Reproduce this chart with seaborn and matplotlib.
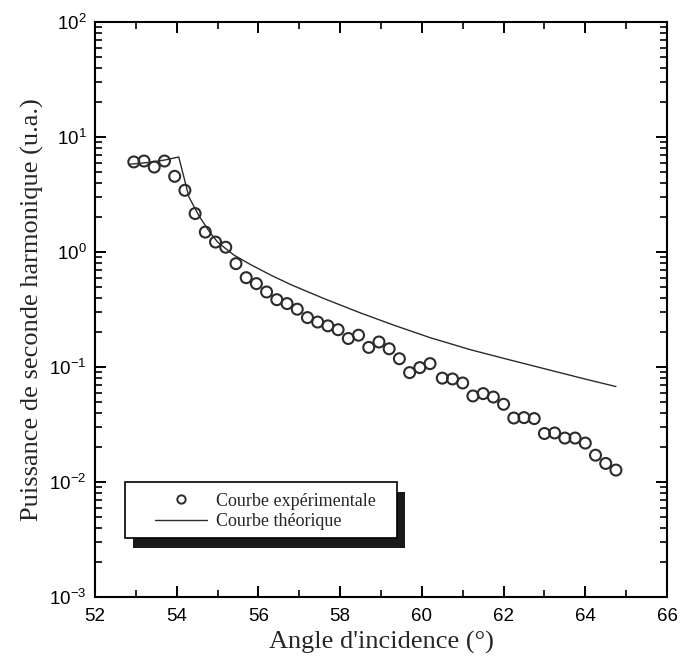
import numpy as np
import pandas as pd
import matplotlib
matplotlib.use("Agg")
import matplotlib.pyplot as plt
import seaborn as sns
from matplotlib.patches import Rectangle
from matplotlib.lines import Line2D
from matplotlib.ticker import LogLocator, MultipleLocator, NullFormatter

# ==============================
# DATA
# ==============================

angle_exp = [52.95, 53.20, 53.45, 53.70, 53.95, 54.20, 54.45, 54.70, 54.95, 55.20,
             55.45, 55.70, 55.95, 56.20, 56.45, 56.70, 56.95, 57.20, 57.45, 57.70,
             57.95, 58.20, 58.45, 58.70, 58.95, 59.20, 59.45, 59.70, 59.95, 60.20,
             60.50, 60.75, 61.00, 61.25, 61.50, 61.75, 62.00, 62.25, 62.50, 62.75,
             63.00, 63.25, 63.50, 63.75, 64.00, 64.25, 64.50, 64.75]
power_exp = [6.07, 6.18, 5.48, 6.18, 4.55, 3.44, 2.16, 1.49, 1.22, 1.10,
             0.792, 0.598, 0.531, 0.449, 0.385, 0.356, 0.318, 0.269, 0.246, 0.228,
             0.211, 0.177, 0.189, 0.148, 0.165, 0.144, 0.118, 0.0894, 0.0988, 0.107,
             0.080, 0.0787, 0.0726, 0.056, 0.0587, 0.0548, 0.0474, 0.0360, 0.0363, 0.0356,
             0.0264, 0.0267, 0.0241, 0.0241, 0.0218, 0.0171, 0.0145, 0.0127]

angle_th = [52.85, 53.30, 53.70, 54.05, 54.30, 54.55, 54.80, 55.00, 55.20, 55.40,
            55.80, 56.30, 56.80, 57.60, 58.50, 59.30, 60.20, 61.20, 62.00, 63.00,
            64.00, 64.75]
power_th = [5.8, 6.0, 6.3, 6.7, 3.0, 2.05, 1.5, 1.22, 1.07, 0.94,
            0.78, 0.63, 0.519, 0.394, 0.295, 0.232, 0.18, 0.141, 0.119, 0.0966,
            0.0785, 0.0676]

label_exp = "Courbe expérimentale"
label_th = "Courbe théorique"

df_exp = pd.DataFrame({"angle": angle_exp, "power": power_exp})
df_th = pd.DataFrame({"angle": angle_th, "power": power_th})

# ==============================
# STYLE
# ==============================

sns.set_theme(style="ticks")
plt.rcParams["font.family"] = ["Liberation Sans", "DejaVu Sans"]
plt.rcParams["axes.linewidth"] = 1.5

serif = ["Liberation Serif", "DejaVu Serif"]
ink = "#2b2b2b"

fig = plt.figure(figsize=(6.86, 6.66), dpi=100)
ax = fig.add_axes([95 / 686, 1 - 597 / 666, 572 / 686, 575 / 666])

# ==============================
# PLOT
# ==============================

sns.lineplot(data=df_th, x="angle", y="power", ax=ax, color=ink, lw=1.0,
             estimator=None, sort=False, zorder=2)
sns.scatterplot(data=df_exp, x="angle", y="power", ax=ax, marker="o", s=62,
                facecolor="none", edgecolor=ink, linewidth=1.5, zorder=3)

ax.set_yscale("log")
ax.set_xlim(52, 66)
ax.set_ylim(1e-3, 1e2)

ax.xaxis.set_major_locator(MultipleLocator(2))
ax.xaxis.set_minor_locator(MultipleLocator(1))
ax.yaxis.set_major_locator(LogLocator(base=10, numticks=10))
ax.yaxis.set_minor_locator(LogLocator(base=10, subs=np.arange(2, 10), numticks=10))
ax.yaxis.set_minor_formatter(NullFormatter())

ax.tick_params(which="both", direction="in", top=True, right=True, colors="black",
               labelsize=13.5)
ax.tick_params(axis="x", pad=8)
ax.tick_params(axis="y", pad=6)
ax.tick_params(which="major", length=8, width=1.4)
ax.tick_params(which="minor", length=5, width=1.2)
for sp in ax.spines.values():
    sp.set_color("black")

ax.set_xlabel("Angle d'incidence (°)", fontsize=19, family=serif, labelpad=4)
ax.set_ylabel("Puissance de seconde harmonique (u.a.)", fontsize=19, family=serif,
              labelpad=4)

# ==============================
# LEGEND (box with dark shadow)
# ==============================

ax.add_patch(Rectangle((0.0664, 0.085), 0.476, 0.0974, transform=ax.transAxes,
                       facecolor="#1a1a1a", edgecolor="none", zorder=4))
ax.add_patch(Rectangle((0.0524, 0.1026), 0.476, 0.0974, transform=ax.transAxes,
                       facecolor="white", edgecolor="black", lw=1.2, zorder=4.5))

handles = [Line2D([], [], ls="none", marker="o", ms=6, mfc="none", mec=ink, mew=1.4),
           Line2D([], [], color=ink, lw=1.0)]
ax.legend(handles, [label_exp, label_th], loc="center left",
          bbox_to_anchor=(0.105, 0.149), frameon=False, borderpad=0, borderaxespad=0,
          handlelength=2.9, handletextpad=0.5, labelspacing=0.2,
          prop={"family": serif, "size": 13}).set_zorder(5)

fig.savefig("out.png", dpi=100)
